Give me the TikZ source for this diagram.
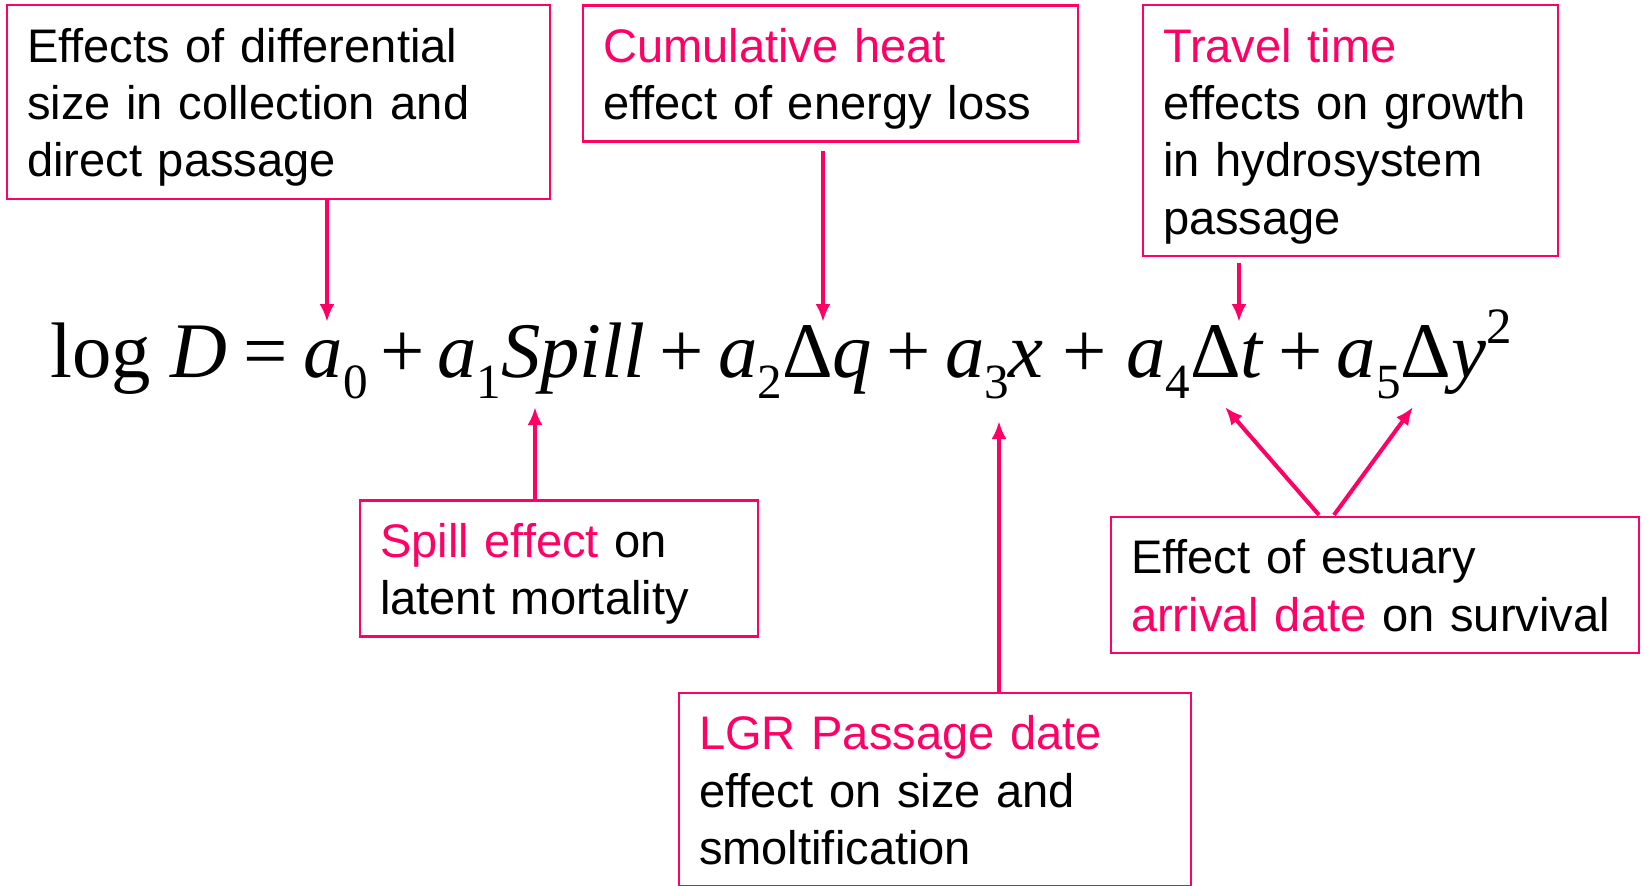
\documentclass[tikz,border=0pt]{standalone}
\usepackage{fontspec}
\setmainfont{Liberation Sans}
\newfontfamily\eqfont{Liberation Serif}
\usetikzlibrary{arrows.meta,calc}
\definecolor{HotPink}{RGB}{255,0,102}
\newcommand\hotword[1]{\textcolor{HotPink}{#1}}
\newcommand\lowidx[1]{\raisebox{-.27em}{\fontsize{14}{14}\selectfont #1}}
\newcommand\highidx[1]{\raisebox{.42em}{\fontsize{14.5}{14.5}\selectfont #1}}
\newcommand\plusop[1][.2em]{\hspace{#1}+\hspace{#1}}
\tikzset{
  >=Latex,
  callout/.style={draw=HotPink,line width=.6pt,fill=white,align=left,text=black,font=\fontsize{13.4}{16.3}\selectfont,inner xsep=.2cm,inner ysep=0pt,
    execute at begin node={\rule{0pt}{16.2pt}},execute at end node={\rule[-6.2pt]{0pt}{6.2pt}}},
  pointer/.style={-{Latex[length=.18cm,width=.15cm]},line width=1.15pt,draw=HotPink},
  formula/.style={font=\eqfont\fontsize{22.4}{26}\selectfont,inner sep=0pt,anchor=base west}
}

\begin{document}
\begin{tikzpicture}[x=1cm,y=1cm]
  \useasboundingbox (0,0) rectangle (16.44,8.85);
  % boxes above the formula
  \node[callout,text width=5.03cm] (size) at (2.785,7.83) {Effects of differential\\size in collection and\\direct passage};
  \node[callout,text width=4.55cm] (heat) at (8.305,8.115) {\hotword{Cumulative heat}\\effect of energy loss};
  \node[callout,text width=3.75cm] (travel) at (13.505,7.545) {\hotword{Travel time}\\effects on growth\\in hydrosystem\\passage};
  % the formula
  \node[formula] (eqn) at (0.50,5.08) {log \textit{D}\hspace{.2em}=\hspace{.2em}\textit{a}\lowidx{0}\plusop[.16em]\textit{a}\lowidx{1}\textit{Spill}\plusop[.18em]\textit{a}\lowidx{2}Δ\textit{q}\plusop[.18em]\textit{a}\lowidx{3}\textit{x}\plusop[.24em]\textit{a}\lowidx{4}Δ\textit{t}\plusop[.18em]\textit{a}\lowidx{5}Δ\textit{y}\highidx{2}};
  % boxes below the formula
  \node[callout,text width=3.58cm] (spill) at (5.59,3.165) {\hotword{Spill effect} on\\latent mortality};
  \node[callout,text width=4.72cm] (lgr) at (9.35,0.954) {\hotword{LGR Passage date}\\effect on size and\\smoltification};
  \node[callout,text width=4.88cm] (estuary) at (13.75,3.0) {Effect of estuary\\\hotword{arrival date} on survival};
  % arrow tips on the terms
  \coordinate (tipA0) at (3.27,5.63);
  \coordinate (tipDq) at (8.23,5.63);
  \coordinate (tipDt) at (12.39,5.63);
  \coordinate (tipSpill) at (5.35,4.78);
  \coordinate (tipX) at (9.99,4.64);
  \coordinate (tipT) at (12.25,4.78);
  \coordinate (tipY) at (14.13,4.78);
  \draw[pointer] (size.south -| tipA0) -- (tipA0);
  \draw[pointer,shorten <=.08cm] (heat.south -| tipDq) -- (tipDq);
  \draw[pointer,shorten <=.06cm] (travel.south -| tipDt) -- (tipDt);
  \draw[pointer] (spill.north -| tipSpill) -- (tipSpill);
  \draw[pointer] (lgr.north -| tipX) -- (tipX);
  \draw[pointer] ($(estuary.north)+(-.56,.01)$) -- (tipT);
  \draw[pointer] ($(estuary.north)+(-.41,.01)$) -- (tipY);
\end{tikzpicture}
\end{document}
